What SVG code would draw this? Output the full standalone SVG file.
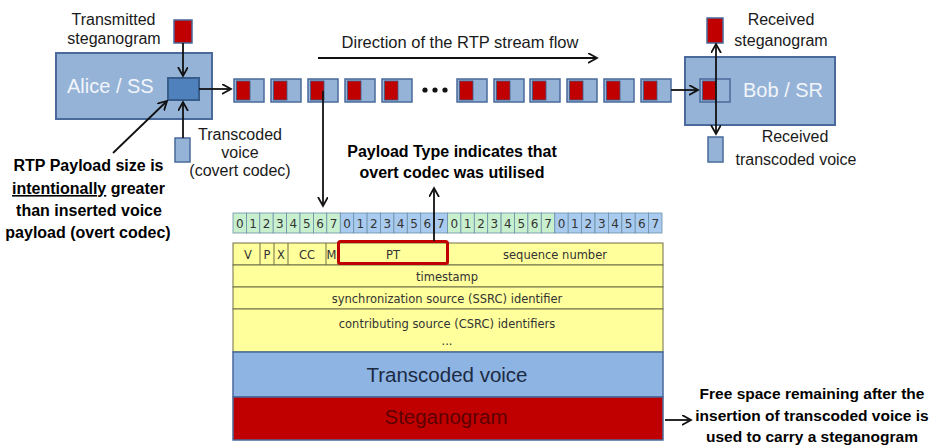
<svg xmlns="http://www.w3.org/2000/svg" width="939" height="445" viewBox="0 0 939 445">
<style>
.lbl{font-family:"Liberation Sans",Arial,sans-serif;font-size:16px;fill:#1a1a1a;text-anchor:middle}
.bold{font-family:"Liberation Sans",Arial,sans-serif;font-size:16px;font-weight:bold;fill:#000;text-anchor:middle}
.big{font-family:"Liberation Sans",Arial,sans-serif;font-size:20px;fill:#f2f5fa}
.node{fill:#95b3d7;stroke:#4a6a9b;stroke-width:2}
.blu{fill:#95b3d7;stroke:#4a6a9b;stroke-width:1.5}
.red{fill:#c00000;stroke:#4a6a9b;stroke-width:1.5}
.dig{font-family:"DejaVu Sans",Verdana,sans-serif;font-size:12px;fill:#333;text-anchor:middle}
.hdr{font-family:"DejaVu Sans",Verdana,sans-serif;font-size:11.5px;fill:#333;text-anchor:middle}
.g{fill:#c8f0cf;stroke:#6b8fa8;stroke-width:0.8}
.b{fill:#a9cbef;stroke:#6b8fa8;stroke-width:0.8}
.y{fill:#ffff9c;stroke:#6e6e48;stroke-width:1}
.con{stroke:#111;stroke-width:1.8;fill:none}
</style>
<defs>
<marker id="ah" markerUnits="userSpaceOnUse" markerWidth="12" markerHeight="12" refX="9" refY="5" orient="auto-start-reverse">
<path d="M0,0 L9,5 L0,10" fill="none" stroke="#111" stroke-width="1.8"/>
</marker>
<g id="pkt">
<rect x="0" y="0" width="30" height="23" class="blu" stroke-width="2"/>
<rect x="2.5" y="2" width="13.5" height="19" fill="#c00000" stroke="#3e5a85" stroke-width="0.8"/>
</g>
</defs>
<rect width="939" height="445" fill="#fff"/>

<g id="alice">
<rect x="56" y="53" width="156" height="66" class="node"/>
<text x="67" y="93" class="big">Alice / SS</text>
<rect x="168" y="78" width="31" height="22" fill="#4f81bd" stroke="#385d8a" stroke-width="2"/>
<rect x="174" y="20" width="18" height="23" class="red"/>
<rect x="175" y="138" width="15" height="24" class="blu"/>
<text class="lbl"><tspan x="113.5" y="25">Transmitted</tspan><tspan x="114" y="44">steganogram</tspan></text>
<text class="lbl"><tspan x="240" y="140">Transcoded</tspan><tspan x="240" y="158">voice</tspan><tspan x="240" y="176">(covert codec)</tspan></text>
</g>

<g id="note-payload-size">
<text class="bold"><tspan x="88.5" y="171">RTP Payload size is</tspan><tspan x="88.5" y="194"><tspan text-decoration="underline">intentionally</tspan> greater</tspan><tspan x="89" y="216">than inserted voice</tspan><tspan x="88" y="238">payload (overt codec)</tspan></text>
</g>

<g id="stream">
<use href="#pkt" x="234" y="79"/>
<use href="#pkt" x="271" y="79"/>
<use href="#pkt" x="308" y="79"/>
<use href="#pkt" x="345" y="79"/>
<use href="#pkt" x="382" y="79"/>
<circle cx="425" cy="90" r="2.6" fill="#111"/>
<circle cx="435" cy="90" r="2.6" fill="#111"/>
<circle cx="445" cy="90" r="2.6" fill="#111"/>
<use href="#pkt" x="457" y="79"/>
<use href="#pkt" x="494" y="79"/>
<use href="#pkt" x="530" y="79"/>
<use href="#pkt" x="567" y="79"/>
<use href="#pkt" x="604" y="79"/>
<use href="#pkt" x="641" y="79"/>
<text x="460" y="48" class="lbl" style="font-size:16.5px">Direction of the RTP stream flow</text>
</g>

<g id="bob">
<rect x="685" y="57" width="150" height="68" class="node"/>
<text x="743" y="97" class="big">Bob / SR</text>
<use href="#pkt" x="700" y="79"/>
<rect x="707" y="18" width="16" height="25" class="red"/>
<rect x="708" y="137" width="15" height="25" class="blu"/>
<text class="lbl"><tspan x="781" y="25">Received</tspan><tspan x="781" y="46">steganogram</tspan></text>
<text class="lbl"><tspan x="795" y="142">Received</tspan><tspan x="796" y="165">transcoded voice</tspan></text>
</g>

<g id="note-pt">
<text class="bold"><tspan x="452" y="157">Payload Type indicates that</tspan><tspan x="452" y="178">overt codec was utilised</tspan></text>
</g>

<g id="bits">
<rect x="233" y="213" width="13.4" height="20" class="g"/><rect x="246.4" y="213" width="13.4" height="20" class="g"/><rect x="259.8" y="213" width="13.4" height="20" class="g"/><rect x="273.2" y="213" width="13.4" height="20" class="g"/><rect x="286.6" y="213" width="13.4" height="20" class="g"/><rect x="300" y="213" width="13.4" height="20" class="g"/><rect x="313.4" y="213" width="13.4" height="20" class="g"/><rect x="326.8" y="213" width="13.5" height="20" class="g"/>
<rect x="340.3" y="213" width="13.4" height="20" class="b"/><rect x="353.7" y="213" width="13.4" height="20" class="b"/><rect x="367.1" y="213" width="13.4" height="20" class="b"/><rect x="380.5" y="213" width="13.4" height="20" class="b"/><rect x="393.9" y="213" width="13.4" height="20" class="b"/><rect x="407.3" y="213" width="13.4" height="20" class="b"/><rect x="420.7" y="213" width="13.4" height="20" class="b"/><rect x="434.1" y="213" width="13.4" height="20" class="b"/>
<rect x="447.5" y="213" width="13.4" height="20" class="g"/><rect x="460.9" y="213" width="13.4" height="20" class="g"/><rect x="474.3" y="213" width="13.4" height="20" class="g"/><rect x="487.7" y="213" width="13.4" height="20" class="g"/><rect x="501.1" y="213" width="13.4" height="20" class="g"/><rect x="514.5" y="213" width="13.4" height="20" class="g"/><rect x="527.9" y="213" width="13.4" height="20" class="g"/><rect x="541.3" y="213" width="13.5" height="20" class="g"/>
<rect x="554.8" y="213" width="13.4" height="20" class="b"/><rect x="568.2" y="213" width="13.4" height="20" class="b"/><rect x="581.6" y="213" width="13.4" height="20" class="b"/><rect x="595" y="213" width="13.4" height="20" class="b"/><rect x="608.4" y="213" width="13.4" height="20" class="b"/><rect x="621.8" y="213" width="13.4" height="20" class="b"/><rect x="635.2" y="213" width="13.4" height="20" class="b"/><rect x="648.6" y="213" width="13.4" height="20" class="b"/>
<g class="dig">
<text x="239.7" y="227.5">0</text><text x="253.1" y="227.5">1</text><text x="266.5" y="227.5">2</text><text x="279.9" y="227.5">3</text><text x="293.3" y="227.5">4</text><text x="306.7" y="227.5">5</text><text x="320.1" y="227.5">6</text><text x="333.5" y="227.5">7</text>
<text x="347" y="227.5">0</text><text x="360.4" y="227.5">1</text><text x="373.8" y="227.5">2</text><text x="387.2" y="227.5">3</text><text x="400.6" y="227.5">4</text><text x="414" y="227.5">5</text><text x="427.4" y="227.5">6</text><text x="440.8" y="227.5">7</text>
<text x="454.2" y="227.5">0</text><text x="467.6" y="227.5">1</text><text x="481" y="227.5">2</text><text x="494.4" y="227.5">3</text><text x="507.8" y="227.5">4</text><text x="521.2" y="227.5">5</text><text x="534.6" y="227.5">6</text><text x="548" y="227.5">7</text>
<text x="561.5" y="227.5">0</text><text x="574.9" y="227.5">1</text><text x="588.3" y="227.5">2</text><text x="601.7" y="227.5">3</text><text x="615.1" y="227.5">4</text><text x="628.5" y="227.5">5</text><text x="641.9" y="227.5">6</text><text x="655.3" y="227.5">7</text>
</g>
</g>

<g id="rtp-header">
<rect x="233" y="243" width="430" height="22" class="y"/>
<rect x="233" y="265" width="430" height="22" class="y"/>
<rect x="233" y="287" width="430" height="22" class="y"/>
<rect x="233" y="309" width="430" height="43" class="y"/>
<path d="M260,243V265M274,243V265M288,243V265M326,243V265M338,243V265M448,243V265" stroke="#6e6e48" stroke-width="1"/>
<text x="248" y="259" class="hdr">V</text>
<text x="267" y="259" class="hdr">P</text>
<text x="281" y="259" class="hdr">X</text>
<text x="307" y="259" class="hdr">CC</text>
<text x="331.5" y="259" class="hdr">M</text>
<text x="393" y="259" class="hdr">PT</text>
<text x="555" y="259" class="hdr">sequence number</text>
<text x="447" y="281" class="hdr">timestamp</text>
<text x="447" y="303" class="hdr">synchronization source (SSRC) identifier</text>
<text x="447" y="328" class="hdr">contributing source (CSRC) identifiers</text>
<text x="447" y="345" class="hdr">...</text>
<rect x="338.5" y="241.5" width="109" height="22" rx="2" fill="none" stroke="#c00000" stroke-width="3"/>
</g>

<g id="payload">
<rect x="233" y="352" width="430" height="45" fill="#8db4e2" stroke="#4a6a9b" stroke-width="1.5"/>
<text x="447" y="382" style="font-family:'Liberation Sans',Arial,sans-serif;font-size:20.5px;fill:#1c2a44;text-anchor:middle">Transcoded voice</text>
<rect x="233" y="397" width="430" height="43" fill="#c00000" stroke="#4a6a9b" stroke-width="1.5"/>
<text x="446" y="424" style="font-family:'Liberation Sans',Arial,sans-serif;font-size:20.5px;fill:#5c0000;text-anchor:middle">Steganogram</text>
</g>

<g id="note-free-space">
<text class="bold" style="font-size:15.5px"><tspan x="812" y="399">Free space remaining after the</tspan><tspan x="812" y="421">insertion of transcoded voice is</tspan><tspan x="812" y="442">used to carry a steganogram</tspan></text>
</g>

<g id="connectors" class="con">
<line x1="183" y1="43" x2="183" y2="76" marker-end="url(#ah)"/>
<line x1="183" y1="138" x2="183" y2="102" marker-end="url(#ah)"/>
<line x1="113" y1="153" x2="167" y2="101" marker-end="url(#ah)"/>
<line x1="199" y1="89" x2="231" y2="89" marker-end="url(#ah)"/>
<line x1="318" y1="58" x2="597" y2="58" marker-end="url(#ah)"/>
<line x1="323" y1="91" x2="323" y2="206" marker-end="url(#ah)"/>
<line x1="434" y1="241" x2="434" y2="188" marker-end="url(#ah)"/>
<line x1="671" y1="90" x2="698" y2="90" marker-end="url(#ah)"/>
<line x1="716" y1="44" x2="716" y2="134" marker-start="url(#ah)" marker-end="url(#ah)"/>
<line x1="665" y1="420" x2="691" y2="420" marker-end="url(#ah)"/>
</g>
</svg>
